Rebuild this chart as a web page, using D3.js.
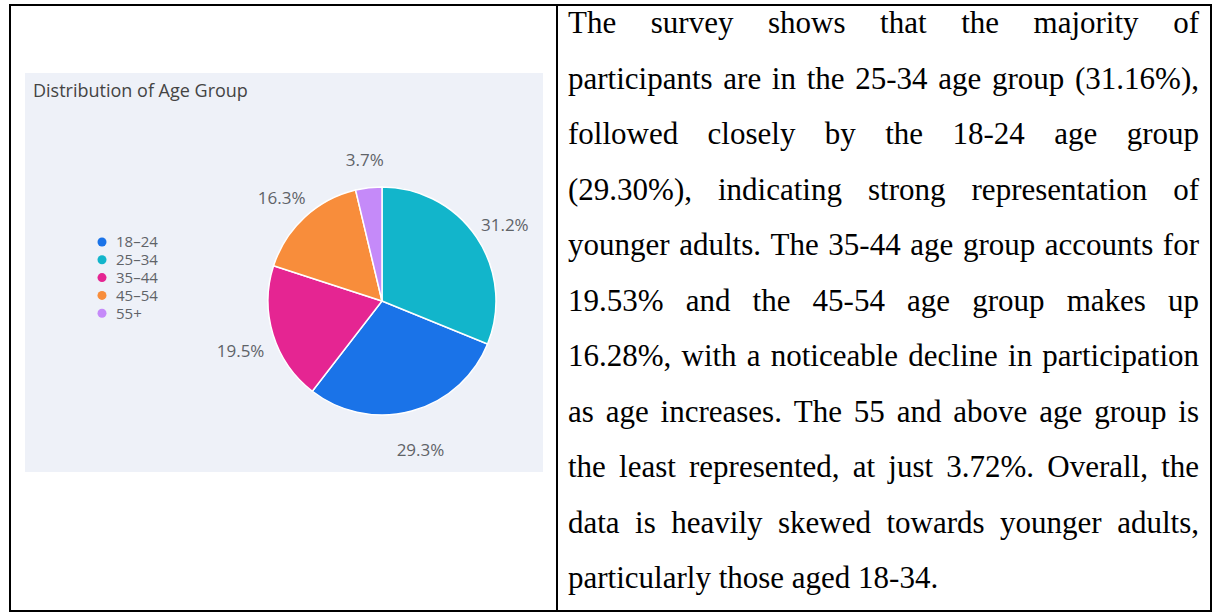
<!DOCTYPE html>
<meta charset="utf-8">
<style>
body { margin: 0; background: #fff; }
svg { display: block; }
</style>
<svg width="1213" height="614"></svg>
<script src="https://d3js.org/d3.v7.min.js"></script>
<script>
// data
var ageGroups = ["18\u201324", "25\u201334", "35\u201344", "45\u201354", "55+"];
var shares = [29.30, 31.16, 19.53, 16.28, 3.72];
var sliceColors = ["#1a73e8", "#12b5cb", "#e52592", "#f88d3b", "#c58af9"];

var paragraph = [
  "The survey shows that the majority of",
  "participants are in the 25-34 age group (31.16%),",
  "followed closely by the 18-24 age group",
  "(29.30%), indicating strong representation of",
  "younger adults. The 35-44 age group accounts for",
  "19.53% and the 45-54 age group makes up",
  "16.28%, with a noticeable decline in participation",
  "as age increases. The 55 and above age group is",
  "the least represented, at just 3.72%. Overall, the",
  "data is heavily skewed towards younger adults,",
  "particularly those aged 18-34."
];

var svg = d3.select("svg");

var rows = ageGroups.map(function(g, i) {
  return { group: g, value: shares[i], color: sliceColors[i] };
});

// chart panel (left cell)
var panel = svg.append("g");
panel.append("rect")
  .attr("x", 25).attr("y", 73)
  .attr("width", 518).attr("height", 399)
  .attr("fill", "#eef1f8");

panel.append("text")
  .attr("x", 33).attr("y", 97)
  .attr("font-family", "'Open Sans', sans-serif")
  .attr("font-size", 18)
  .attr("fill", "#444")
  .text("Distribution of Age Group");

// legend
var legend = panel.append("g").selectAll("g")
  .data(rows)
  .enter().append("g")
  .attr("transform", function(d, i) { return "translate(102," + (242 + i * 17.8) + ")"; });
legend.append("circle").attr("r", 4.5).attr("fill", function(d) { return d.color; });
legend.append("text")
  .attr("x", 14).attr("dy", "0.36em")
  .attr("font-family", "'Open Sans', sans-serif")
  .attr("font-size", 15)
  .attr("fill", "#5f6368")
  .text(function(d) { return d.group; });

// pie
var radius = 114;
var pie = d3.pie().value(function(d) { return d.value; });
var arc = d3.arc().innerRadius(0).outerRadius(radius);
var labelArc = d3.arc().innerRadius(148).outerRadius(148);
var fmt = d3.format(".1f");

var pieG = panel.append("g").attr("transform", "translate(382,301)");
var arcs = pie(rows);

pieG.selectAll("path")
  .data(arcs)
  .enter().append("path")
  .attr("d", arc)
  .attr("fill", function(d) { return d.data.color; })
  .attr("stroke", "#ffffff")
  .attr("stroke-width", 1.5);

pieG.selectAll("text")
  .data(arcs)
  .enter().append("text")
  .attr("transform", function(d) {
    var c = labelArc.centroid(d);
    return "translate(" + c[0] + "," + (c[1] + 6) + ")";
  })
  .attr("text-anchor", "middle")
  .attr("dy", "0.36em")
  .attr("font-family", "'Open Sans', sans-serif")
  .attr("font-size", 17)
  .attr("fill", "#5f6368")
  .text(function(d) { return fmt(d.data.value) + "%"; });

// justified paragraph (right cell)
var textLeft = 568, textRight = 1199, firstBase = 33, lineGap = 55.5;
var serif = "'Liberation Serif', 'Times New Roman', serif";

function measure(str) {
  var t = svg.append("text").attr("font-family", serif).attr("font-size", 31).text(str);
  var w = t.node().getComputedTextLength();
  t.remove();
  return w;
}
var spaceW = measure("a a") - measure("aa");

paragraph.forEach(function(line, i) {
  var words = line.split(" ");
  var widths = words.map(measure);
  var isLast = i === paragraph.length - 1;
  var gap = isLast ? spaceW : (textRight - textLeft - d3.sum(widths)) / (words.length - 1);
  var t = svg.append("text")
    .attr("y", firstBase + i * lineGap)
    .attr("font-family", serif)
    .attr("font-size", 31)
    .attr("fill", "#000");
  var x = textLeft;
  words.forEach(function(w, j) {
    t.append("tspan").attr("x", x).text(w);
    x += widths[j] + gap;
  });
});

// table borders
var borders = [
  [9, 5, 1212, 5],
  [10, 5, 10, 612],
  [557, 5, 557, 612],
  [1211, 5, 1211, 612],
  [9, 611, 1212, 611]
];
svg.append("g").selectAll("line")
  .data(borders)
  .enter().append("line")
  .attr("x1", function(d) { return d[0]; })
  .attr("y1", function(d) { return d[1]; })
  .attr("x2", function(d) { return d[2]; })
  .attr("y2", function(d) { return d[3]; })
  .attr("stroke", "#000")
  .attr("stroke-width", 2);
</script>
